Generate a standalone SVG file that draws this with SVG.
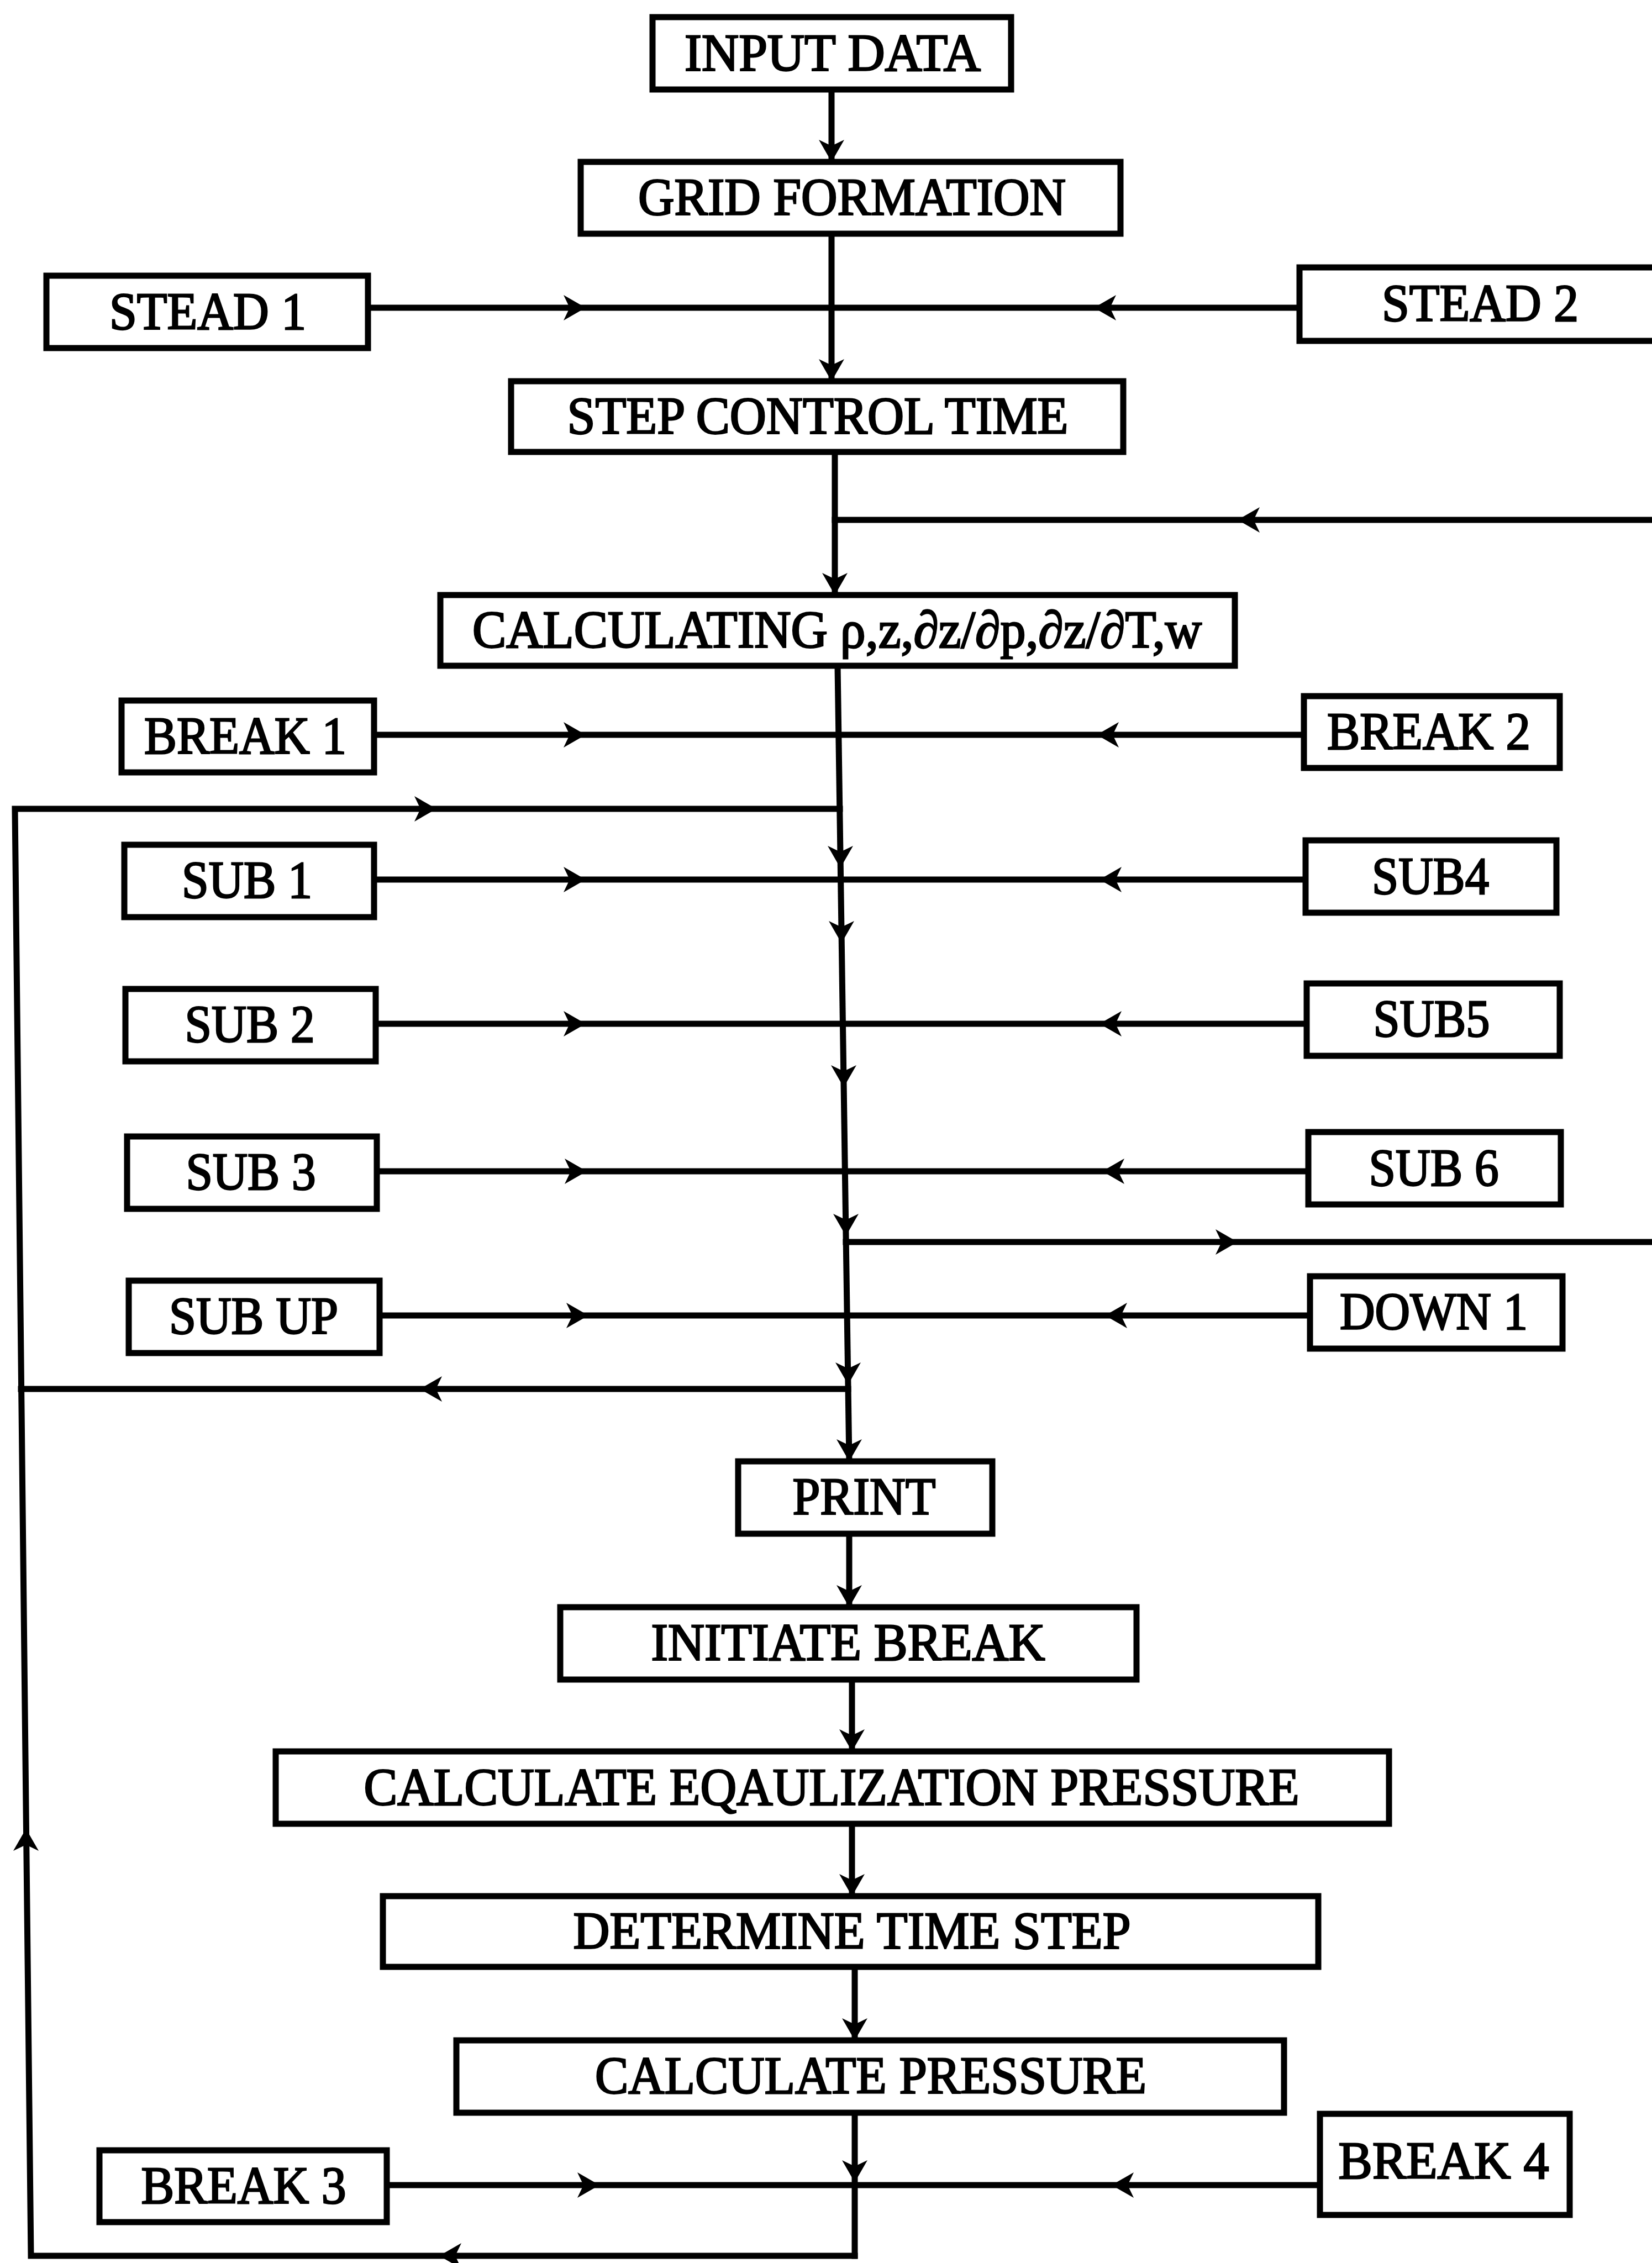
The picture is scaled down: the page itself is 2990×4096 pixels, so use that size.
<svg xmlns="http://www.w3.org/2000/svg" width="2990" height="4096" viewBox="0 0 2990 4096">
<style>
.box{fill:#fff;stroke:#000;stroke-width:11}
.lbl{font-family:"Liberation Serif","Times New Roman",serif;font-size:95px;fill:#000;stroke:#000;stroke-width:2.8;text-anchor:middle}
.ln{fill:none;stroke:#000;stroke-width:11;stroke-linecap:square;stroke-linejoin:miter}
.ah{fill:#000}
</style>
<defs>
<path id="ah" class="ah" d="M0,0 L-40,-23 L-29,0 L-40,23 Z"/>
</defs>
<rect width="2990" height="4096" fill="#fff"/>

<g id="connectors">
<path class="ln" d="M1505,162 V293"/>
<use href="#ah" transform="translate(1505,293) rotate(90)"/>
<path class="ln" d="M1505,423 V690"/>
<use href="#ah" transform="translate(1505,690) rotate(90)"/>
<path class="ln" d="M666,557 H2352"/>
<use href="#ah" transform="translate(1060,557)"/>
<use href="#ah" transform="translate(1980,557) rotate(180)"/>
<path class="ln" d="M1511,818 V1077"/>
<use href="#ah" transform="translate(1511,1077) rotate(90)"/>
<path class="ln" d="M2995,941 H1511"/>
<use href="#ah" transform="translate(2240,941) rotate(180)"/>
<path class="ln" d="M1516,1205 L1537,2645"/>
<path class="ln" d="M677,1330 H2360"/>
<use href="#ah" transform="translate(1060,1330)"/>
<use href="#ah" transform="translate(1985,1330) rotate(180)"/>
<path class="ln" d="M1547,4083 H56 L27,1464 H1520"/>
<use href="#ah" transform="translate(790,1464)"/>
<use href="#ah" transform="translate(47,3310) rotate(-90)"/>
<use href="#ah" transform="translate(795,4083) rotate(180)"/>
<use href="#ah" transform="translate(1521,1571) rotate(90)"/>
<path class="ln" d="M677,1592 H2363"/>
<use href="#ah" transform="translate(1060,1592)"/>
<use href="#ah" transform="translate(1990,1592) rotate(180)"/>
<use href="#ah" transform="translate(1523,1707) rotate(90)"/>
<path class="ln" d="M680,1853 H2365"/>
<use href="#ah" transform="translate(1060,1853)"/>
<use href="#ah" transform="translate(1990,1853) rotate(180)"/>
<use href="#ah" transform="translate(1527,1968) rotate(90)"/>
<path class="ln" d="M682,2120 H2368"/>
<use href="#ah" transform="translate(1062,2120)"/>
<use href="#ah" transform="translate(1995,2120) rotate(180)"/>
<use href="#ah" transform="translate(1531,2237) rotate(90)"/>
<path class="ln" d="M1531,2248 H2995"/>
<use href="#ah" transform="translate(2240,2248)"/>
<path class="ln" d="M687,2381 H2371"/>
<use href="#ah" transform="translate(1065,2381)"/>
<use href="#ah" transform="translate(2000,2381) rotate(180)"/>
<use href="#ah" transform="translate(1535,2506) rotate(90)"/>
<path class="ln" d="M1535,2514 H38"/>
<use href="#ah" transform="translate(760,2514) rotate(180)"/>
<use href="#ah" transform="translate(1537,2645) rotate(90)"/>
<path class="ln" d="M1537,2776 V2909"/>
<use href="#ah" transform="translate(1537,2909) rotate(90)"/>
<path class="ln" d="M1542,3040 V3170"/>
<use href="#ah" transform="translate(1542,3170) rotate(90)"/>
<path class="ln" d="M1542,3301 V3432"/>
<use href="#ah" transform="translate(1542,3432) rotate(90)"/>
<path class="ln" d="M1547,3560 V3693"/>
<use href="#ah" transform="translate(1547,3693) rotate(90)"/>
<path class="ln" d="M1547,3824 V4083"/>
<use href="#ah" transform="translate(1547,3950) rotate(90)"/>
<path class="ln" d="M700,3955 H2389"/>
<use href="#ah" transform="translate(1085,3955)"/>
<use href="#ah" transform="translate(2012,3955) rotate(180)"/>
</g>

<g id="input-data"><rect class="box" x="1181" y="31" width="649" height="131"/><text class="lbl" x="1507" y="128" textLength="536" lengthAdjust="spacingAndGlyphs">INPUT DATA</text></g>
<g id="grid-formation"><rect class="box" x="1051" y="293" width="977" height="130"/><text class="lbl" x="1542" y="389" textLength="774" lengthAdjust="spacingAndGlyphs">GRID FORMATION</text></g>
<g id="stead-1"><rect class="box" x="84" y="499" width="582" height="131"/><text class="lbl" x="376" y="596" textLength="356" lengthAdjust="spacingAndGlyphs">STEAD 1</text></g>
<g id="stead-2"><path class="box" d="M3000,484 H2352 V617 H3000"/><text class="lbl" x="2679" y="581" textLength="356" lengthAdjust="spacingAndGlyphs">STEAD 2</text></g>
<g id="step-control-time"><rect class="box" x="925" y="690" width="1108" height="128"/><text class="lbl" x="1480" y="785" textLength="907" lengthAdjust="spacingAndGlyphs">STEP CONTROL TIME</text></g>
<g id="calculating"><rect class="box" x="797" y="1077" width="1438" height="128"/><text class="lbl" x="1515" y="1172" textLength="1320" lengthAdjust="spacingAndGlyphs">CALCULATING ρ,z,∂z/∂p,∂z/∂T,w</text></g>
<g id="break-1"><rect class="box" x="220" y="1268" width="457" height="130"/><text class="lbl" x="444" y="1364" textLength="366" lengthAdjust="spacingAndGlyphs">BREAK 1</text></g>
<g id="break-2"><rect class="box" x="2360" y="1260" width="463" height="130"/><text class="lbl" x="2586" y="1356" textLength="368" lengthAdjust="spacingAndGlyphs">BREAK 2</text></g>
<g id="sub-1"><rect class="box" x="225" y="1529" width="452" height="131"/><text class="lbl" x="447" y="1625" textLength="236" lengthAdjust="spacingAndGlyphs">SUB 1</text></g>
<g id="sub-4"><rect class="box" x="2363" y="1521" width="454" height="131"/><text class="lbl" x="2589" y="1618" textLength="212" lengthAdjust="spacingAndGlyphs">SUB4</text></g>
<g id="sub-2"><rect class="box" x="227" y="1790" width="453" height="131"/><text class="lbl" x="452" y="1886" textLength="235" lengthAdjust="spacingAndGlyphs">SUB 2</text></g>
<g id="sub-5"><rect class="box" x="2365" y="1780" width="458" height="131"/><text class="lbl" x="2591" y="1876" textLength="211" lengthAdjust="spacingAndGlyphs">SUB5</text></g>
<g id="sub-3"><rect class="box" x="230" y="2057" width="452" height="131"/><text class="lbl" x="454" y="2153" textLength="235" lengthAdjust="spacingAndGlyphs">SUB 3</text></g>
<g id="sub-6"><rect class="box" x="2368" y="2049" width="457" height="131"/><text class="lbl" x="2595" y="2146" textLength="235" lengthAdjust="spacingAndGlyphs">SUB 6</text></g>
<g id="sub-up"><rect class="box" x="233" y="2318" width="454" height="131"/><text class="lbl" x="459" y="2414" textLength="306" lengthAdjust="spacingAndGlyphs">SUB UP</text></g>
<g id="down-1"><rect class="box" x="2371" y="2310" width="457" height="131"/><text class="lbl" x="2595" y="2406" textLength="340" lengthAdjust="spacingAndGlyphs">DOWN 1</text></g>
<g id="print"><rect class="box" x="1336" y="2645" width="460" height="131"/><text class="lbl" x="1564" y="2741" textLength="259" lengthAdjust="spacingAndGlyphs">PRINT</text></g>
<g id="initiate-break"><rect class="box" x="1014" y="2909" width="1043" height="131"/><text class="lbl" x="1535" y="3005" textLength="713" lengthAdjust="spacingAndGlyphs">INITIATE BREAK</text></g>
<g id="calc-eq-pressure"><rect class="box" x="499" y="3170" width="2015" height="131"/><text class="lbl" x="1505" y="3267" textLength="1693" lengthAdjust="spacingAndGlyphs">CALCULATE EQAULIZATION PRESSURE</text></g>
<g id="determine-time-step"><rect class="box" x="693" y="3432" width="1693" height="128"/><text class="lbl" x="1542" y="3527" textLength="1009" lengthAdjust="spacingAndGlyphs">DETERMINE TIME STEP</text></g>
<g id="calculate-pressure"><rect class="box" x="826" y="3693" width="1498" height="131"/><text class="lbl" x="1576" y="3789" textLength="998" lengthAdjust="spacingAndGlyphs">CALCULATE PRESSURE</text></g>
<g id="break-3"><rect class="box" x="180" y="3892" width="520" height="130"/><text class="lbl" x="441" y="3988" textLength="371" lengthAdjust="spacingAndGlyphs">BREAK 3</text></g>
<g id="break-4"><rect class="box" x="2389" y="3826" width="452" height="183"/><text class="lbl" x="2613" y="3943" font-size="100" textLength="381" lengthAdjust="spacingAndGlyphs">BREAK 4</text></g>
</svg>
